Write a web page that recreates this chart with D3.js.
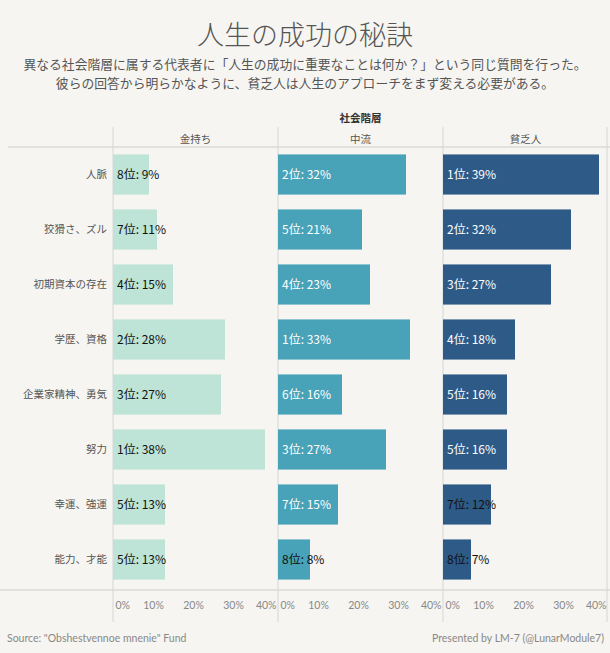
<!DOCTYPE html>
<html>
<head>
<meta charset="utf-8">
<script src="https://cdn.jsdelivr.net/npm/d3@7"></script>
<style>
  body { margin: 0; background: #f6f5f1; }
  svg { display: block; font-family: "Noto Sans CJK JP", "Noto Sans", sans-serif; }
</style>
</head>
<body>
<div id="vis"></div>
<script>
// Three side-by-side bar panels: answer share per factor, one panel per social class.

const FACTORS = ["人脈", "狡猾さ、ズル", "初期資本の存在", "学歴、資格", "企業家精神、勇気", "努力", "幸運、強運", "能力、才能"];

const CLASSES = ["金持ち", "中流", "貧乏人"];
const CLASS_COLORS = ["#bde4d6", "#48a2b8", "#2e5a87"];

const RICH_PCT   = [9, 11, 15, 28, 27, 38, 13, 13];
const RICH_RANK  = [8, 7, 4, 2, 3, 1, 5, 5];
const MIDDLE_PCT  = [32, 21, 23, 33, 16, 27, 15, 8];
const MIDDLE_RANK = [2, 5, 4, 1, 6, 3, 7, 8];
const POOR_PCT   = [39, 32, 27, 18, 16, 16, 12, 7];
const POOR_RANK  = [1, 2, 3, 4, 5, 5, 7, 8];

const TICKS = [0, 10, 20, 30, 40];

const SERIES = [
  { pct: RICH_PCT, rank: RICH_RANK },
  { pct: MIDDLE_PCT, rank: MIDDLE_RANK },
  { pct: POOR_PCT, rank: POOR_RANK },
];

const W = 610, H = 653;
const plotLeft = 113, panelW = 165;
const plotTop = 147, plotBottom = 587;

const svg = d3.select("#vis").append("svg").attr("width", W).attr("height", H);

// ── Titles ───────────────────────────────────────────────────────────────────
svg.append("text").attr("x", W / 2).attr("y", 45).attr("text-anchor", "middle")
  .style("font-size", "27px").style("font-weight", "300").style("fill", "#555").text("人生の成功の秘訣");

const sub = ["異なる社会階層に属する代表者に「人生の成功に重要なことは何か？」という同じ質問を行った。",
             "彼らの回答から明らかなように、貧乏人は人生のアプローチをまず変える必要がある。"];
sub.forEach((s, i) => {
  svg.append("text").attr("x", W / 2).attr("y", 69 + i * 19).attr("text-anchor", "middle")
    .style("font-size", "12.8px").style("fill", "#555").text(s);
});

svg.append("text").attr("x", plotLeft + panelW * 1.5).attr("y", 122).attr("text-anchor", "middle")
  .style("font-size", "10.5px").style("fill", "#333").style("font-weight", "bold").text("社会階層");

// ── Scales ───────────────────────────────────────────────────────────────────
const y = d3.scaleBand().domain(FACTORS).range([plotTop, plotBottom]).paddingInner(0.27).paddingOuter(0.135);
const x = d3.scaleLinear().domain([0, 41.25]).range([0, panelW]);
const panelX = d3.scaleBand().domain(CLASSES).range([plotLeft, plotLeft + panelW * 3]);

// frame lines
svg.append("line").attr("x1", 8).attr("x2", W).attr("y1", plotTop).attr("y2", plotTop)
  .attr("stroke", "#ccc");
svg.append("line").attr("x1", 0).attr("x2", W).attr("y1", plotBottom + 3).attr("y2", plotBottom + 3)
  .attr("stroke", "#ccc");
[...CLASSES.map(c => panelX(c)), plotLeft + panelW * 3 - 1].forEach(px => {
  svg.append("line").attr("x1", px).attr("x2", px).attr("y1", 127).attr("y2", 622)
    .attr("stroke", "#d6d6d6");
});

// row labels
svg.append("g").selectAll("text").data(FACTORS).join("text")
  .attr("x", plotLeft - 6).attr("y", d => y(d) + y.bandwidth() / 2).attr("dy", "0.35em")
  .attr("text-anchor", "end").style("font-size", "10.5px").style("fill", "#555").text(d => d);

// ── Panels ───────────────────────────────────────────────────────────────────
CLASSES.forEach((cls, ci) => {
  const px = panelX(cls);
  const g = svg.append("g").attr("transform", `translate(${px},0)`);
  const rows = FACTORS.map((f, i) => ({ f, pct: SERIES[ci].pct[i], rank: SERIES[ci].rank[i] }));

  g.append("text").attr("x", panelW / 2).attr("y", 143).attr("text-anchor", "middle")
    .style("font-size", "10.5px").style("fill", "#555").text(cls);

  g.selectAll("rect").data(rows).join("rect")
    .attr("x", 0).attr("y", d => y(d.f)).attr("width", d => x(d.pct)).attr("height", y.bandwidth())
    .attr("fill", CLASS_COLORS[ci]);

  g.selectAll("text.lbl").data(rows).join("text").attr("class", "lbl")
    .attr("x", 4).attr("y", d => y(d.f) + y.bandwidth() / 2).attr("dy", "0.35em")
    .style("font-size", "12px")
    .style("fill", d => (ci > 0 && d.pct >= 15) ? "#fff" : "#111")
    .text(d => `${d.rank}位: ${d.pct}%`);

  // axis
  const ax = g.append("g").attr("transform", `translate(0,${plotBottom + 3})`)
    .call(d3.axisBottom(x).tickValues(TICKS).tickFormat(d => d + "%").tickSize(0).tickPadding(12));
  ax.select(".domain").remove();
  ax.selectAll("text").style("font-size", "10.5px").style("fill", "#888")
    .style("font-family", "Lato, 'Noto Sans', sans-serif")
    .attr("text-anchor", d => d === 0 ? "start" : d === 40 ? "end" : "middle")
    .attr("x", d => d === 0 ? 2 : d === 40 ? panelW - x(40) - 2 : 0);
});

// ── Footer ───────────────────────────────────────────────────────────────────
svg.append("text").attr("x", 7).attr("y", 642).style("font-size", "10.5px").style("fill", "#888")
  .style("font-family", "Lato, 'Noto Sans', sans-serif")
  .text("Source: \"Obshestvennoe mnenie\" Fund");
svg.append("text").attr("x", 604).attr("y", 642).attr("text-anchor", "end")
  .style("font-size", "10.5px").style("fill", "#888")
  .style("font-family", "Lato, 'Noto Sans', sans-serif")
  .text("Presented by LM-7 (@LunarModule7)");
</script>
</body>
</html>
